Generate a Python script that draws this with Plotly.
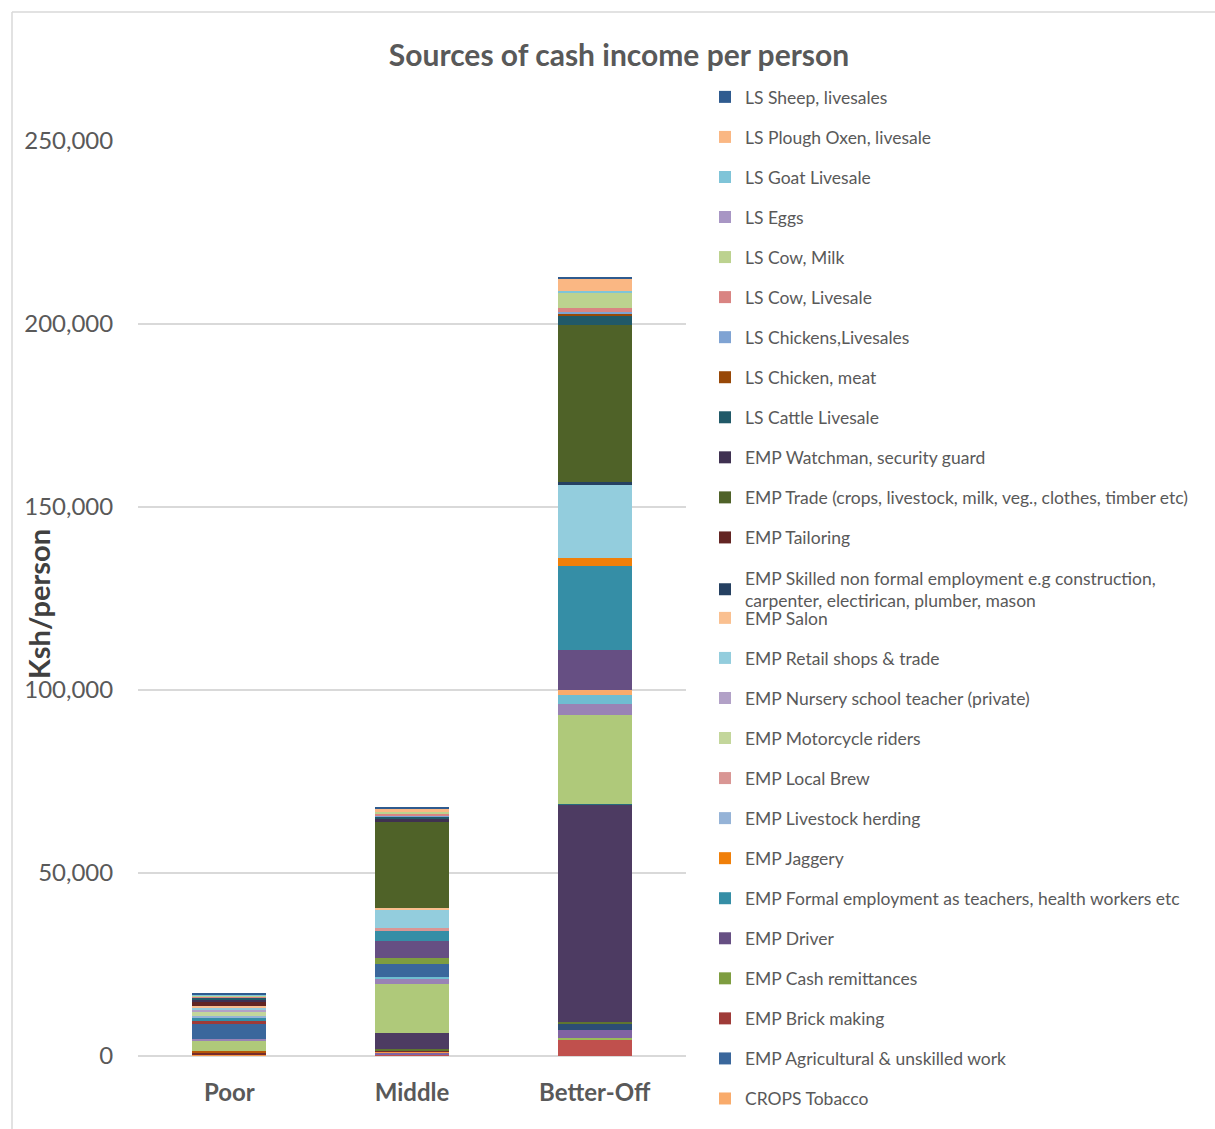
import plotly.graph_objects as go

# Household wealth groups
categories = ["Poor", "Middle", "Better-Off"]

# Income sources, in stacking order (first = bottom of the stack).
# The first 17 crop sources are not listed in the legend.
series_names = [
    "CROPS other 1", "CROPS other 2", "CROPS other 3", "CROPS other 4",
    "CROPS other 5", "CROPS other 6", "CROPS other 7", "CROPS other 8",
    "CROPS other 9", "CROPS other 10", "CROPS other 11", "CROPS other 12",
    "CROPS other 13", "CROPS other 14", "CROPS other 15", "CROPS other 16",
    "CROPS other 17",
    "CROPS Tobacco",
    "EMP Agricultural & unskilled work",
    "EMP Brick making",
    "EMP Cash remittances",
    "EMP Driver",
    "EMP Formal employment as teachers, health workers etc",
    "EMP Jaggery",
    "EMP Livestock herding",
    "EMP Local Brew",
    "EMP Motorcycle riders",
    "EMP Nursery school teacher (private)",
    "EMP Retail shops & trade",
    "EMP Salon",
    "EMP Skilled non formal employment e.g construction,<br>carpenter, electirican, plumber, mason",
    "EMP Tailoring",
    "EMP Trade (crops, livestock, milk, veg., clothes, timber etc)",
    "EMP Watchman, security guard",
    "LS Cattle Livesale",
    "LS Chicken, meat",
    "LS Chickens,Livesales",
    "LS Cow, Livesale",
    "LS Cow, Milk",
    "LS Eggs",
    "LS Goat Livesale",
    "LS Plough Oxen, livesale",
    "LS Sheep, livesales",
]
n_unlisted = 17

# Ksh per person, one value per series
poor_values = [
    0, 0, 0, 0, 0, 500, 0, 400, 0, 0, 0, 500, 0, 0, 2800, 400, 0,
    0, 4400, 450, 0, 0, 800, 0, 550, 0, 1100, 900, 450, 300, 0, 1200, 0, 650,
    450, 0, 0, 300, 350, 0, 300, 0, 300,
]
middle_values = [
    0, 500, 0, 400, 0, 300, 0, 400, 450, 4300, 0, 0, 0, 0, 13400, 1400, 450,
    0, 3500, 0, 1800, 4600, 2700, 0, 0, 700, 0, 0, 4900, 700, 0, 0, 23500, 800,
    600, 0, 350, 350, 600, 0, 0, 1000, 350,
]
betteroff_values = [
    0, 4600, 450, 2000, 0, 0, 1600, 0, 600, 59400, 250, 0, 0, 0, 24400, 2900, 2300,
    1600, 0, 0, 0, 10700, 23000, 2200, 0, 0, 0, 0, 19900, 0, 900, 0, 42800, 0,
    2700, 600, 450, 900, 4100, 0, 700, 3400, 450,
]

series_colors = [
    "#4F81BD", "#C0504D", "#9BBB59", "#8064A2", "#4BACC6", "#F79646",
    "#2C4D75", "#772C2A", "#5F7530", "#4D3B62", "#276A7C", "#B65708",
    "#729ACA", "#CD7371", "#AFC97A", "#9983B5", "#6FBDD1", "#F9AB6B",
    "#3A679C", "#9F3B38", "#7E9D40", "#664F83", "#358EA6", "#F07F09",
    "#95B3D7", "#D99694", "#C3D69B", "#B2A1C7", "#93CDDD", "#FAC090",
    "#254061", "#632523", "#4F6228", "#3F3151", "#215968", "#984807",
    "#7FA3D3", "#D98482", "#BCD28F", "#A896C4", "#7FC4D8", "#FAB783",
    "#2F5B8F",
]

# Plot-area geometry in pixels
W, H = 1215, 1129
PL, PR, PT, PB = 138, 686, 141, 1056


def px_x(p):
    return (p - PL) / (PR - PL)


def px_y(p):
    return (PB - p) / (PB - PT)


FONT = "Lato, 'Open Sans', sans-serif"
GREY = "#595959"

# The legend is split in three blocks so the two-line entry keeps the
# regular row pitch of the others.
i_skilled = series_names.index(
    "EMP Skilled non formal employment e.g construction,<br>carpenter, electirican, plumber, mason")


def legend_for(i):
    if i < i_skilled:
        return "legend3"
    if i == i_skilled:
        return "legend2"
    return "legend"


fig = go.Figure()
n = len(series_names)
for i, name in enumerate(series_names):
    fig.add_trace(go.Bar(
        name=name,
        x=categories,
        y=[poor_values[i], middle_values[i], betteroff_values[i]],
        marker=dict(color=series_colors[i], line=dict(width=0)),
        showlegend=i >= n_unlisted,
        legendgroup=f"g{i}",
        legendrank=n - i,
        legend=legend_for(i),
        hovertemplate="%{x}: %{y:,.0f}<extra>" + name.replace("<br>", " ") + "</extra>",
    ))

legend_common = dict(
    font=dict(family=FONT, size=17.5, color=GREY),
    bgcolor="rgba(0,0,0,0)",
    traceorder="grouped",
    tracegroupgap=14.3,
    itemclick=False,
    itemdoubleclick=False,
    xanchor="left",
    yanchor="top",
    xref="container",
    yref="container",
    x=705 / W,
    maxheight=700,
)

fig.update_layout(
    width=W,
    height=H,
    margin=dict(l=PL, r=W - PR, t=PT, b=H - PB, pad=0, autoexpand=False),
    paper_bgcolor="white",
    plot_bgcolor="white",
    barmode="stack",
    bargap=0.595,
    font=dict(family=FONT, color=GREY),
    title=dict(
        text="<b>Sources of cash income per person</b>",
        font=dict(family=FONT, size=30, color=GREY),
        x=619 / W, xanchor="center",
        y=1 - 55 / H, yanchor="middle",
        xref="container", yref="container",
    ),
    xaxis=dict(
        showgrid=False,
        showline=False,
        ticks="outside", ticklen=0,
        ticklabelstandoff=15,
        tickfont=dict(family=FONT, size=24, color=GREY, weight="bold"),
    ),
    yaxis=dict(
        range=[0, 250000],
        dtick=50000,
        tickformat=",",
        showgrid=True,
        gridcolor="#D9D9D9",
        gridwidth=1.5,
        zeroline=True,
        zerolinecolor="#D9D9D9",
        zerolinewidth=1.5,
        showline=False,
        ticks="outside", ticklen=0,
        ticklabelstandoff=19,
        tickfont=dict(family=FONT, size=24, color=GREY),
    ),
    legend=dict(y=1 - 79 / H, **legend_common),
    legend2=dict(y=1 - 560 / H, **legend_common),
    legend3=dict(y=1 - 600 / H, **legend_common),
    annotations=[
        dict(
            text="<b>Ksh/person</b>",
            xref="paper", yref="paper",
            x=px_x(38), y=px_y(604),
            xanchor="center", yanchor="middle",
            textangle=-90,
            showarrow=False,
            font=dict(family=FONT, size=29, color="#404040"),
        )
    ],
    shapes=[
        # chart frame
        dict(type="line", xref="paper", yref="paper",
             x0=px_x(12), x1=px_x(1215), y0=px_y(12), y1=px_y(12),
             line=dict(color="#D9D9D9", width=1.5)),
        dict(type="line", xref="paper", yref="paper",
             x0=px_x(12), x1=px_x(12), y0=px_y(12), y1=px_y(1129),
             line=dict(color="#D9D9D9", width=1.5)),
    ],
)

fig.write_html("out.html")
